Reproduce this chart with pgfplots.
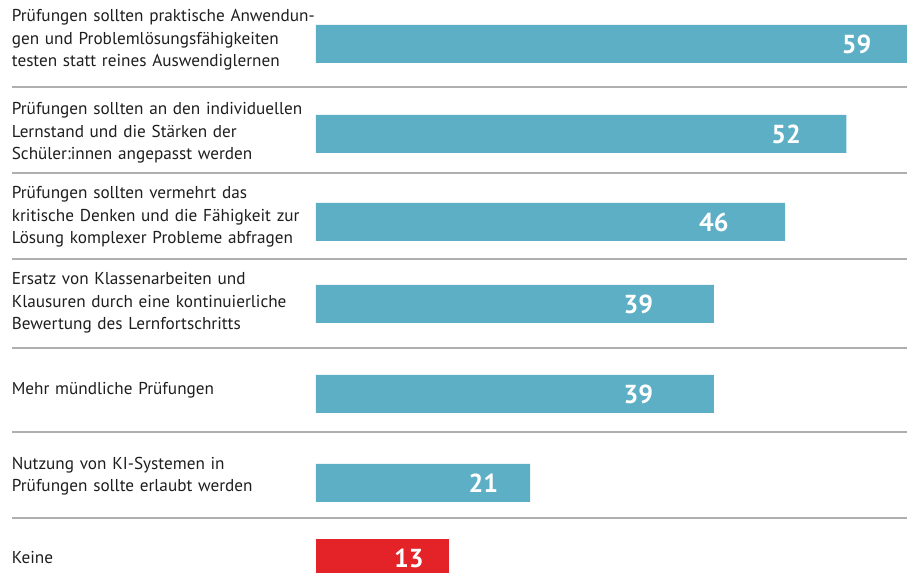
\documentclass[border=0pt]{standalone}
\usepackage{fontspec}
\setmainfont{PT Sans}
\usepackage{pgfplots}
\pgfplotsset{compat=1.18}
\usepackage{pgfplotstable}
\definecolor{barblue}{RGB}{92,175,197}
\definecolor{barred}{RGB}{228,35,40}
\definecolor{sepgray}{RGB}{175,175,175}
\definecolor{txt}{RGB}{30,30,30}

% y = bar centre (px from bottom), v = share in %, dx = label offset from bar end
\pgfplotstableread{
y   v   dx
529 59 -6.0
439 52 -5.9
351 46 -7.0
269 39 -7.4
179 39 -7.4
90  21 -4.6
}\bluedata
\pgfplotstableread{
y  v  dx
15 13 -3.9
}\reddata

\begin{document}
\begin{tikzpicture}
\clip (0,0) rectangle (453.5pt,286.5pt);
\begin{axis}[
    at={(158pt,0pt)}, anchor=south west,
    scale only axis, width=295.5pt, height=286.5pt,
    xmin=0, xmax=57.94, ymin=0, ymax=573,
    clip=false,
    axis line style={draw=none},
    major tick style={draw=none},
    xtick=\empty,
    ytick={533,440,356,270,183,97,15},
    yticklabels={
        {Prüfungen sollten praktische Anwendun-\\gen und Problemlösungsfähigkeiten\\testen statt reines Auswendiglernen},
        {Prüfungen sollten an den individuellen\\Lernstand und die Stärken der\\Schüler:innen angepasst werden},
        {Prüfungen sollten vermehrt das\\kritische Denken und die Fähigkeit zur\\Lösung komplexer Probleme abfragen},
        {Ersatz von Klassenarbeiten und\\Klausuren durch eine kontinuierliche\\Bewertung des Lernfortschritts},
        {Mehr mündliche Prüfungen},
        {Nutzung von KI-Systemen in\\Prüfungen sollte erlaubt werden},
        {Keine}},
    yticklabel style={text width=170pt, align=left, anchor=west, inner xsep=0pt,
        xshift=-148pt, text=txt, font=\fontsize{8.6}{11.25}\selectfont},
    xbar, bar width=19pt, bar shift=0pt,
    point meta=explicit symbolic,
    nodes near coords={\pgfplotspointmeta},
    visualization depends on={\thisrow{dx} \as \dx},
    every node near coord/.append style={anchor=center, xshift=\dx*5.1pt,
        text=white, font=\bfseries\fontsize{13}{13}\selectfont},
]
    \pgfplotsinvokeforeach{486,400,314,225,141,55}{
        \draw[sepgray, line width=1pt] (axis cs:-29.8,#1) -- (axis cs:60,#1);
    }
    \addplot[draw=none, fill=barblue] table[x=v, y=y, meta=v] {\bluedata};
    \addplot[draw=none, fill=barred] table[x=v, y=y, meta=v] {\reddata};
\end{axis}
\end{tikzpicture}
\end{document}
